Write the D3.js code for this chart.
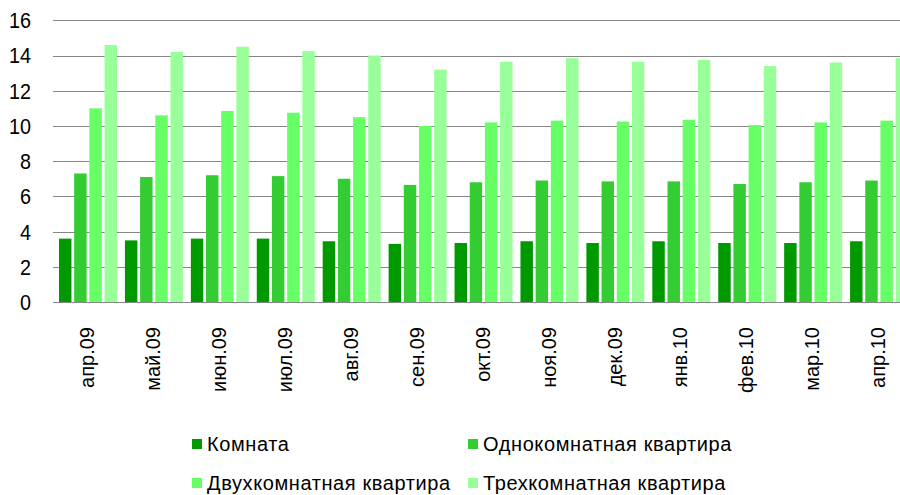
<!DOCTYPE html>
<html>
<head>
<meta charset="utf-8">
<script src="https://cdn.jsdelivr.net/npm/d3@7"></script>
<style>
  body { margin: 0; background: #fff; }
  svg { display: block; font-family: "Liberation Sans", Arial, sans-serif; }
</style>
</head>
<body>
<div id="chart"></div>
<script>
// data
const months = ["апр.09", "май.09", "июн.09", "июл.09", "авг.09", "сен.09", "окт.09",
                "ноя.09", "дек.09", "янв.10", "фев.10", "мар.10", "апр.10"];
const seriesNames = ["Комната", "Однокомнатная квартира", "Двухкомнатная квартира", "Трехкомнатная квартира"];
const room  = [3.6, 3.5, 3.6, 3.6, 3.45, 3.3, 3.35, 3.45, 3.35, 3.45, 3.35, 3.35, 3.45];
const one   = [7.3, 7.1, 7.2, 7.15, 7.0, 6.65, 6.8, 6.9, 6.85, 6.85, 6.7, 6.8, 6.9];
const two   = [11.0, 10.6, 10.85, 10.75, 10.5, 10.0, 10.2, 10.3, 10.25, 10.35, 10.05, 10.2, 10.3];
const three = [14.6, 14.2, 14.5, 14.25, 14.0, 13.2, 13.65, 13.85, 13.65, 13.75, 13.4, 13.6, 13.85];
const yTicks = [0, 2, 4, 6, 8, 10, 12, 14, 16];
const colors = ["#009900", "#33cc33", "#66ff66", "#99ff99"];

const allSeries = [room, one, two, three];

const width = 900, height = 495;
const svg = d3.select("#chart").append("svg")
  .attr("width", width)
  .attr("height", height);

const x0 = d3.scaleBand()
  .domain(months)
  .range([53, 910])
  .padding(0);

const x1 = d3.scaleBand()
  .domain(d3.range(seriesNames.length))
  .range([6, 64])
  .paddingInner(0.18)
  .paddingOuter(0);

const y = d3.scaleLinear()
  .domain([0, 16])
  .range([302, 20.3]);

// grid lines
svg.append("g")
  .selectAll("line")
  .data(yTicks)
  .enter()
  .append("line")
  .attr("x1", 53)
  .attr("x2", width)
  .attr("y1", d => Math.round(y(d)) + 0.5)
  .attr("y2", d => Math.round(y(d)) + 0.5)
  .attr("stroke", "#868686")
  .attr("stroke-width", 1);

// y labels (reference digits are a bit taller and narrower)
svg.append("g")
  .selectAll("text")
  .data(yTicks)
  .enter()
  .append("text")
  .attr("transform", d => "translate(31," + y(d) + ") scale(0.9,1)")
  .attr("dy", "0.36em")
  .attr("text-anchor", "end")
  .attr("font-size", 22)
  .attr("fill", "#000")
  .text(d => d);

// bars
const groups = svg.append("g")
  .selectAll("g")
  .data(months)
  .enter()
  .append("g")
  .attr("transform", d => "translate(" + x0(d) + ",0)");

groups.selectAll("rect")
  .data((m, i) => allSeries.map((s, k) => ({ k: k, v: s[i] })))
  .enter()
  .append("rect")
  .attr("x", d => x1(d.k))
  .attr("width", x1.bandwidth())
  .attr("y", d => y(d.v))
  .attr("height", d => y(0) - y(d.v))
  .attr("fill", d => colors[d.k]);

// x labels
svg.append("g")
  .selectAll("text")
  .data(months)
  .enter()
  .append("text")
  .attr("transform", d => "translate(" + (x0(d) + x0.bandwidth() / 2 + 1) + ",327) rotate(-90)")
  .attr("dy", "0.36em")
  .attr("text-anchor", "end")
  .attr("font-size", 20)
  .attr("fill", "#000")
  .text(d => d);

// legend
const legendPos = [[192, 439], [468, 439], [192, 478], [468, 478]];
const legend = svg.append("g")
  .selectAll("g")
  .data(seriesNames)
  .enter()
  .append("g")
  .attr("transform", (d, i) => "translate(" + legendPos[i][0] + "," + legendPos[i][1] + ")");

legend.append("rect")
  .attr("width", 10)
  .attr("height", 10)
  .attr("fill", (d, i) => colors[i]);

legend.append("text")
  .attr("x", 15)
  .attr("y", 5)
  .attr("dy", "0.36em")
  .attr("font-size", 20)
  .attr("letter-spacing", 0.6)
  .attr("fill", "#000")
  .text(d => d);
</script>
</body>
</html>
